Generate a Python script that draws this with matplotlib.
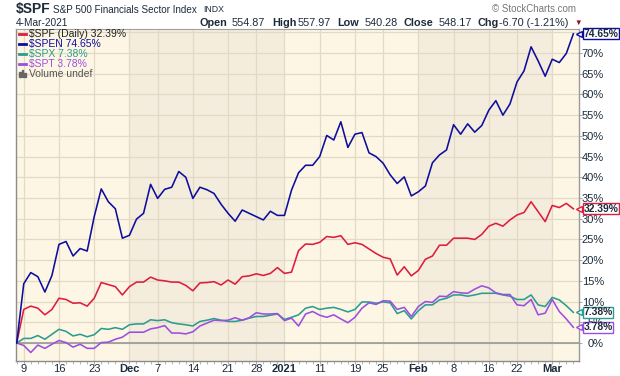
import matplotlib
matplotlib.use('Agg')
import matplotlib.pyplot as plt
import matplotlib.transforms as mtrans
import numpy as np
import pandas as pd

plt.rcParams['font.family'] = ['Liberation Sans', 'DejaVu Sans']

# trading days 6-Nov-2020 .. 4-Mar-2021
holidays = ['2020-11-26', '2020-12-25', '2021-01-01', '2021-01-18', '2021-02-15']
dates = [d for d in pd.bdate_range('2020-11-06', '2021-03-04') if d.strftime('%Y-%m-%d') not in holidays]

spf = [0, 8.1, 8.9, 8.4, 6.8, 8.1, 10.8, 10.5, 9.6, 9.7, 8.9, 10.8, 14.6, 14.1, 13.6, 11.6,
       13.6, 14.7, 14.7, 15.9, 15.2, 15.0, 14.7, 14.7, 13.9, 12.6, 14.5, 14.6, 14.8, 14.0,
       15.2, 14.2, 16.0, 16.2, 16.7, 16.3, 16.8, 18.2, 16.8, 17.1, 22.3, 23.9, 23.8, 24.3,
       25.7, 25.5, 25.9, 23.8, 24.2, 23.8, 22.7, 21.6, 20.7, 20.3, 16.4, 18.4, 16.2, 17.5,
       20.2, 21.0, 23.6, 23.6, 25.3, 25.3, 25.3, 25.0, 26.2, 28.2, 28.9, 28.2, 29.7, 30.9,
       31.5, 34.1, 31.7, 29.3, 33.2, 32.7, 33.7, 32.39]
spen = [0, 14.3, 17.0, 16.0, 12.3, 16.3, 23.8, 24.5, 21.0, 22.8, 22.2, 30.5, 37.2, 34.1, 32.4, 25.3,
        26.0, 29.9, 31.3, 38.3, 34.9, 37.1, 37.6, 41.4, 40.0, 34.9, 37.6, 37.0, 36.1, 33.5,
        31.3, 29.4, 32.1, 31.3, 30.5, 29.7, 31.8, 30.8, 30.8, 36.9, 41.1, 42.9, 42.9, 45.0,
        50.1, 49.0, 53.4, 47.2, 50.4, 50.8, 45.9, 45.0, 43.4, 40.6, 38.5, 40.1, 35.5, 36.5,
        37.9, 43.5, 45.4, 46.6, 52.7, 50.4, 52.9, 50.9, 52.5, 56.2, 58.5, 55.0, 57.7, 63.0,
        65.7, 71.5, 68.1, 64.4, 68.5, 67.7, 69.9, 74.65]
spx = [0, 1.1, 1.1, 1.8, 0.9, 2.1, 3.3, 2.8, 1.7, 2.1, 1.5, 2.0, 3.5, 3.3, 3.7, 3.3,
       4.4, 4.6, 4.6, 5.6, 5.4, 5.6, 4.9, 4.6, 4.4, 4.1, 5.2, 5.5, 5.9, 5.5,
       5.2, 5.2, 5.5, 6.0, 6.4, 6.4, 6.7, 7.0, 5.7, 6.2, 6.8, 8.4, 8.8, 8.1,
       8.4, 8.6, 8.1, 7.5, 8.1, 9.9, 9.9, 9.6, 9.9, 9.7, 7.1, 7.8, 5.8, 7.8,
       9.2, 9.2, 10.4, 10.8, 11.6, 11.6, 11.3, 11.6, 12.0, 12.0, 12.0, 11.6, 11.3, 10.5,
       10.5, 11.6, 9.2, 8.8, 11.0, 10.4, 9.0, 7.38]
spt = [0, -0.6, -2.3, -0.5, -1.3, -0.3, 0.6, 0.1, -1.0, -0.3, -1.3, -1.3, 0.1, 0.2, 0.9, 1.4,
       2.6, 2.6, 2.6, 3.4, 3.7, 4.2, 2.4, 2.4, 2.2, 2.7, 4.1, 4.8, 5.5, 5.4,
       5.5, 6.1, 5.5, 6.1, 7.3, 7.0, 7.0, 7.1, 5.4, 6.0, 4.1, 7.0, 7.6, 6.7,
       6.2, 6.8, 5.8, 4.9, 6.2, 8.4, 9.7, 9.3, 10.2, 10.1, 8.1, 8.6, 6.4, 8.8,
       10.0, 9.8, 11.3, 11.2, 12.4, 12.1, 12.0, 13.0, 13.8, 13.3, 12.1, 11.7, 11.7, 9.2,
       9.0, 10.5, 6.8, 7.2, 10.5, 7.6, 5.8, 3.78]

names = ['$SPF (Daily) 32.39%', '$SPEN 74.65%', '$SPX 7.38%', '$SPT 3.78%']
colors = ['#dc1e3c', '#0d0d9e', '#2a9d8f', '#9b4fe0']
text_colors = ['#222222', '#0d0d9e', '#2a9d8f', '#9b4fe0']
tag_labels = ['32.39%', '74.65%', '7.38%', '3.78%']

tick_dates = ['2020-11-09', '2020-11-16', '2020-11-23', '2020-12-01', '2020-12-07', '2020-12-14',
              '2020-12-21', '2020-12-28', '2021-01-04', '2021-01-11', '2021-01-19', '2021-01-25',
              '2021-02-01', '2021-02-08', '2021-02-16', '2021-02-22', '2021-03-01']
tick_labels = ['9', '16', '23', 'Dec', '7', '14', '21', '28', '2021', '11', '19', '25',
               'Feb', '8', '16', '22', 'Mar']
bold_labels = ['Dec', '2021', 'Feb', 'Mar']

date_str = [d.strftime('%Y-%m-%d') for d in dates]
xs = np.arange(len(dates))
tick_pos = [date_str.index(t) for t in tick_dates]

light = '#fdf6e4'
dark = '#f4ecdc'
grid = '#e3dac6'
txt = '#1c2b3a'

fig = plt.figure(figsize=(6.2, 3.76), dpi=100)
ax = fig.add_axes([16/620, 1-361/376, 563/620, 332/376])
ax.set_facecolor(light)

# darker months (Dec, Feb)
ax.axvspan(date_str.index('2020-12-01'), date_str.index('2021-01-04'), color=dark, lw=0, zorder=0)
ax.axvspan(date_str.index('2021-02-01'), date_str.index('2021-03-01'), color=dark, lw=0, zorder=0)

for p in tick_pos:
    ax.axvline(p, color=grid, lw=0.9, zorder=1)
for v in range(0, 80, 5):
    ax.axhline(v, color=grid, lw=0.9, zorder=1)
ax.axhline(0, color='#8e948e', lw=1.1, zorder=2)

series = [spf, spen, spx, spt]
order = [2, 3, 0, 1]
for i in order:
    ax.plot(xs, series[i], color=colors[i], lw=1.15, zorder=3)

ax.set_xlim(-0.1, 79.8)
ax.set_ylim(-4.35, 75.8)

ax.set_xticks(tick_pos)
ax.set_xticklabels(tick_labels)
for lab in ax.get_xticklabels():
    lab.set_fontsize(8)
    lab.set_color(txt)
    if lab.get_text() in bold_labels:
        lab.set_fontweight('bold')
ax.set_xticks(xs, minor=True)
ax.tick_params(axis='x', which='major', length=2, width=0.6, color='#999999', pad=0.5)
ax.tick_params(axis='x', which='minor', length=2, width=0.6, color='#aaaaaa')

ax.yaxis.tick_right()
ax.set_yticks(range(0, 75, 5))
ax.set_yticklabels(['%d%%' % v for v in range(0, 75, 5)])
ax.tick_params(axis='y', length=2, width=0.6, color='#999999', pad=16, labelsize=8, labelcolor=txt)
for lab in ax.get_yticklabels():
    lab.set_horizontalalignment('right')

for s in ['left', 'bottom']:
    ax.spines[s].set_color('#8c8c8c')
    ax.spines[s].set_linewidth(1)
ax.spines['top'].set_color('#a0a0a0')
ax.spines['top'].set_linewidth(0.8)
ax.spines['right'].set_color('#9a9a9a')
ax.spines['right'].set_linestyle((0, (1, 1)))
ax.spines['right'].set_linewidth(1)

# value tags on the right
tr = mtrans.blended_transform_factory(ax.transAxes, ax.transData)
for i in range(4):
    yv = series[i][-1]
    ax.text(1.0078, yv, tag_labels[i], transform=tr, fontsize=7.4, fontweight='bold', color=txt,
            va='center', ha='left', clip_on=False, zorder=6,
            bbox=dict(boxstyle='square,pad=0.06', fc='white', ec=colors[i], lw=1))
    ax.plot([1.0], [yv], marker='<', ms=4.5, mfc='white', mec=colors[i], mew=1,
            transform=tr, clip_on=False, zorder=7)

# legend
ly = [34, 44, 54, 64, 74]
for i in range(4):
    fig.lines.append(plt.Line2D([19/620, 26/620], [1-ly[i]/376]*2, color=colors[i], lw=2,
                                transform=fig.transFigure))
    fig.text(29/620, 1-ly[i]/376, names[i], fontsize=7.5, color=text_colors[i], va='center')
fig.text(29/620, 1-ly[4]/376, 'Volume undef', fontsize=7.5, color='#555555', va='center')
for k, h in enumerate([5, 7, 4]):
    fig.patches.append(plt.Rectangle(((19 + 2.5*k)/620, 1-77/376), 1.8/620, h/376,
                                     color='#666666', transform=fig.transFigure))

# header
fig.text(16/620, 1-9.5/376, '$SPF', fontsize=10, fontweight='bold', color=txt, va='center')
fig.text(53/620, 1-10/376, 'S&P 500 Financials Sector Index', fontsize=7.1, color=txt, va='center')
fig.text(203/620, 1-10/376, 'INDX', fontsize=6.3, color=txt, va='center')
fig.text(16/620, 1-23/376, '4-Mar-2021', fontsize=7.3, color=txt, va='center')
fig.text(492/620, 1-9/376, '\u00a9 StockCharts.com', fontsize=7, color='#777777', va='center')

hdr = [(200, 'Open', True), (232, '554.87', False), (272, 'High', True), (298, '557.97', False),
       (337, 'Low', True), (365, '540.28', False), (404, 'Close', True), (439, '548.17', False),
       (478, 'Chg', True), (499, '-6.70 (-1.21%)', False)]
for x, s, b in hdr:
    fig.text(x/620, 1-23/376, s, fontsize=7.8, color=txt, va='center',
             fontweight='bold' if b else 'normal')
fig.text(574/620, 1-23/376, '\u25bc', fontsize=5.5, color='#8b1020', va='center')

fig.savefig('out.png', dpi=100, facecolor='white')
